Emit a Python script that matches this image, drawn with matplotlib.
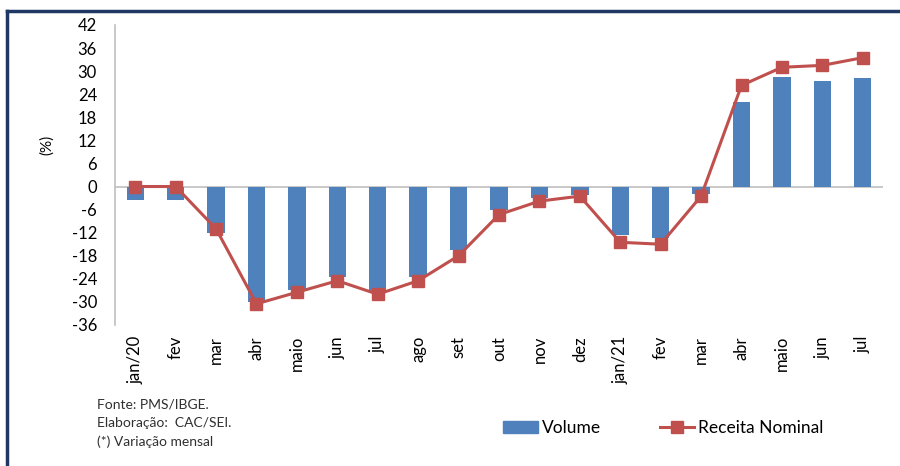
import numpy as np
import matplotlib.pyplot as plt
from matplotlib.lines import Line2D
from matplotlib.patches import Patch

plt.rcParams['font.family'] = ['Lato', 'DejaVu Sans']
plt.rcParams['axes.unicode_minus'] = False

# data
meses = ['jan/20', 'fev', 'mar', 'abr', 'maio', 'jun', 'jul', 'ago', 'set', 'out',
         'nov', 'dez', 'jan/21', 'fev', 'mar', 'abr', 'maio', 'jun', 'jul']
volume = [-3.5, -3.5, -12.0, -30.0, -27.0, -23.5, -27.5, -23.5, -16.5, -6.0,
          -3.0, -2.3, -12.5, -13.5, -2.0, 22.0, 28.5, 27.5, 28.3]
receita = [0.0, 0.0, -11.0, -30.5, -27.5, -24.5, -28.0, -24.5, -18.0, -7.3,
           -3.8, -2.5, -14.5, -15.0, -2.5, 26.3, 31.0, 31.5, 33.5]
yticks = list(range(-36, 43, 6))

azul = '#4F81BD'
vermelho = '#C0504D'

fig = plt.figure(figsize=(9, 4.66), dpi=100)
ax = fig.add_axes([0.1278, 0.3026, 0.8533, 0.6438])

x = np.arange(len(meses))
ax.bar(x, volume, width=0.43, color=azul, zorder=2)
ax.plot(x, receita, color=vermelho, lw=2.2, marker='s', ms=8, zorder=3)
ax.axhline(0, color='#BFBFBF', lw=1.2, zorder=1)

ax.set_xlim(-0.5, len(meses) - 0.5)
ax.set_ylim(-36, 42)
ax.set_yticks(yticks)
ax.set_xticks(x)
ax.set_xticklabels(meses, rotation=90, fontsize=12)
ax.tick_params(axis='y', labelsize=12, length=0, pad=13)
ax.tick_params(axis='x', length=0, pad=8)
for s in ['top', 'right', 'bottom']:
    ax.spines[s].set_visible(False)
ax.spines['left'].set_color('#BFBFBF')
ax.spines['left'].set_linewidth(1.2)
ax.set_ylabel('(%)', fontsize=11)
ax.yaxis.set_label_coords(-0.079, 0.6)

# notas de rodapé
fig.text(0.108, 0.133, 'Fonte: PMS/IBGE.', fontsize=10, color='#303030', va='center')
fig.text(0.108, 0.092, 'Elaboração:  CAC/SEI.', fontsize=10, color='#303030', va='center')
fig.text(0.108, 0.052, '(*) Variação mensal', fontsize=10, color='#303030', va='center')

handles = [Patch(color=azul, label='Volume'),
           Line2D([0], [0], color=vermelho, lw=2.2, marker='s', ms=8, label='Receita Nominal')]
fig.legend(handles=handles, loc='center', bbox_to_anchor=(0.737, 0.082), ncol=2,
           frameon=False, fontsize=12.5, handlelength=2.0, columnspacing=3.4, handletextpad=0.2)

# moldura
fig.add_artist(Line2D([0.008, 1.0], [0.976, 0.976], color='#1F3864', lw=2.5))
fig.add_artist(Line2D([0.008, 0.008], [0.0, 0.976], color='#1F3864', lw=2.5))

fig.savefig('out.png', dpi=100)
